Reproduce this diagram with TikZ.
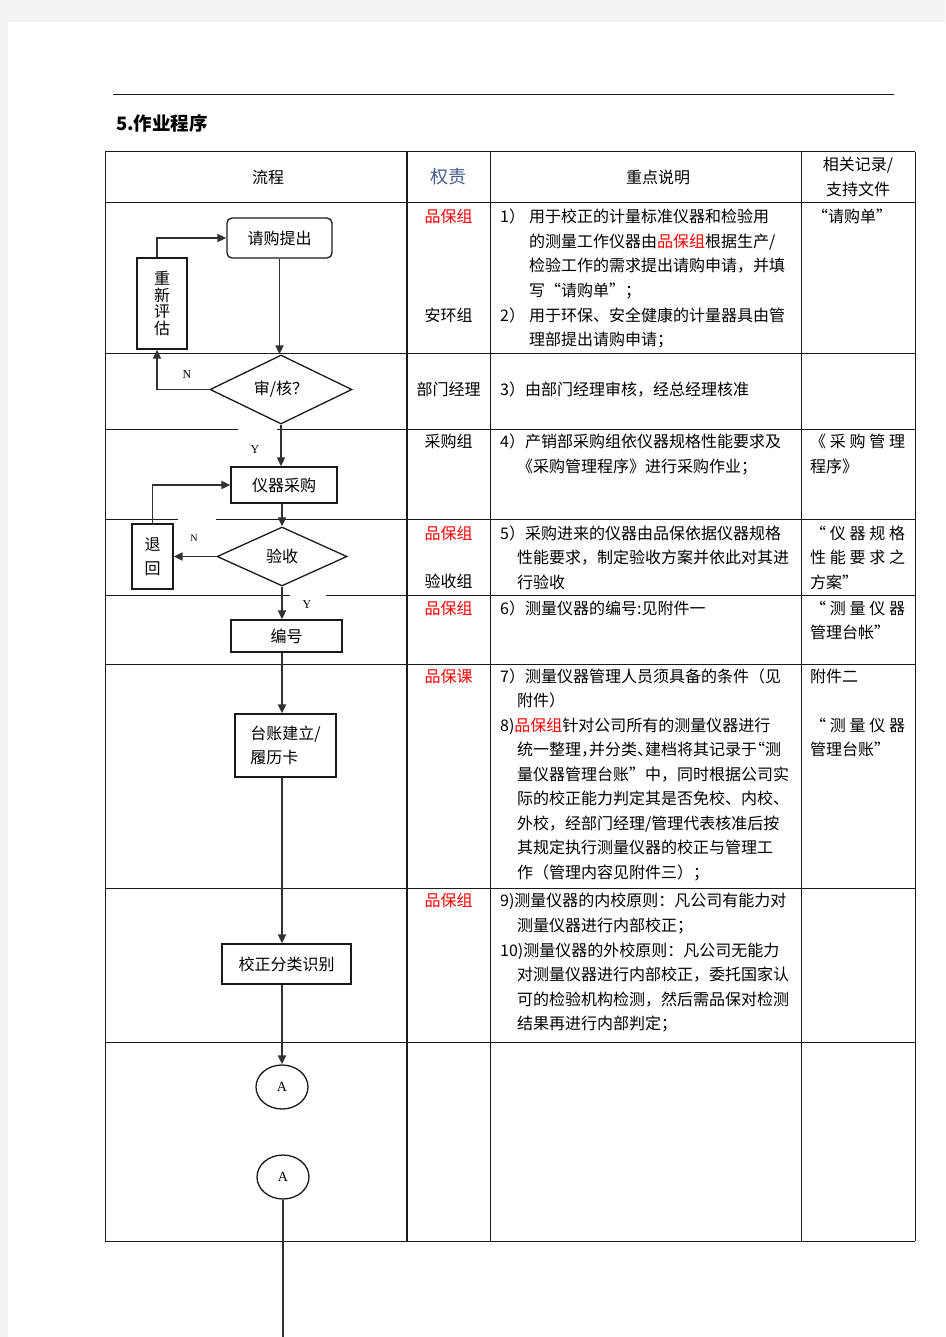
\documentclass[tikz,border=0pt]{standalone}
\usepackage{fontspec}
\newfontfamily\cjk{Noto Sans CJK SC}
\newfontfamily\lat{Liberation Serif}
\usetikzlibrary{shapes.geometric,arrows.meta}

\definecolor{pagegray}{HTML}{F3F3F3}
\definecolor{dutyblue}{RGB}{70,90,140}
\definecolor{ink}{HTML}{1A1A1A}

\tikzset{
  every node/.style={font=\cjk\fontsize{16}{24.5}\selectfont},
  tabline/.style={draw=ink, line width=1pt},
  proc/.style={draw=ink, line width=1.3pt, inner sep=0pt},
  rproc/.style={proc, rounded corners=5pt},
  decide/.style={proc, diamond, aspect=2},
  joint/.style={proc, ellipse, font=\lat\fontsize{14}{14}\selectfont},
  flow/.style={draw=ink!90, line width=1.8pt, -{Triangle[length=9pt,width=8pt]}},
  yn/.style={inner sep=0pt, font=\lat\fontsize{12}{12}\selectfont},
  txt/.style={anchor=base west, inner sep=0pt},
  role/.style={anchor=base, inner sep=0pt}
}

% lines of one cell, 24.5 apart
\newcommand\textlines[4]{%
  \foreach \entry [count=\k] in {#4}
    \node[txt] (#1-\k) at (#2,{#3+24.5*(\k-1)}) {\entry};}
% five glyphs spread over the record column
\newcommand\spread[5]{\makebox[95pt][s]{#1\hfill #2\hfill #3\hfill #4\hfill #5}}
% half-width punctuation
\newcommand\hp[1]{\makebox[8pt][l]{#1}}
\newcommand\hq[1]{\makebox[8pt][r]{#1}}

\begin{document}
\begin{tikzpicture}[x=1pt,y=-1pt]

	\fill[pagegray] (0,0) rectangle (945,1337);
	\fill[white] (8,22) rectangle (945,1337);
	\useasboundingbox (0,0) rectangle (945,1337);

	\draw[tabline] (113,95) -- (894,95);
	\node[anchor=west, inner sep=0pt, font=\cjk\bfseries\fontsize{18.5}{18.5}\selectfont] (title) at (116,123) {5.作业程序};

	% table
	\foreach \y in {152,203,353,664,888,1042,1241}
		\draw[tabline] (105,\y) -- (915,\y);
	\draw[tabline] (105,429) -- (238,429);
	\draw[tabline] (277,429) -- (915,429);
	\draw[tabline] (105,519) -- (178,519);
	\draw[tabline] (216,519) -- (915,519);
	\draw[tabline] (105,595) -- (290,595);
	\draw[tabline] (326,595) -- (915,595);

	\foreach \x in {105,490,801,915}
		\draw[tabline] (\x,152) -- (\x,1241);
	\draw[tabline, line width=2.2pt] (407,152) -- (407,1241);

	% header
	\node (h1) at (268,177) {流程};
	\node[text=dutyblue, font=\cjk\fontsize{18}{18}\selectfont] (h2) at (448.5,177) {权责};
	\node (h3) at (658,177) {重点说明};
	\node[align=center, inner sep=0pt] (h4) at (858,177) {相关记录/\\支持文件};

	% flow
	\node[rproc, minimum width=105pt, minimum height=40pt] (req) at (279.5,238) {请购提出};
	\node[proc, minimum width=50pt, minimum height=91pt, align=center, font=\cjk\fontsize{16}{16.7}\selectfont] (re) at (162,303.5) {重\\新\\评\\估};
	\node[decide, minimum width=142pt, minimum height=69pt] (aud) at (281,389.5) {审/核？};
	\node[proc, minimum width=106pt, minimum height=36pt] (buy) at (284,485) {仪器采购};
	\node[decide, minimum width=130pt, minimum height=59pt] (chk) at (282,556.5) {验收};
	\node[proc, minimum width=41pt, minimum height=65pt, align=center] (ret) at (152.5,556.5) {退\\回};
	\node[proc, minimum width=111pt, minimum height=32pt] (num) at (286.5,636) {编号};
	\node[proc, minimum width=101pt, minimum height=63pt, align=left] (led) at (285.5,745.5) {台账建立/\\履历卡};
	\node[proc, minimum width=129pt, minimum height=40pt] (cal) at (286.5,964) {校正分类识别};
	\node[joint, minimum width=52pt, minimum height=44pt] (a1) at (282,1087) {A};
	\node[joint, minimum width=52pt, minimum height=44pt] (a2) at (283,1177) {A};
	\coordinate (tail) at (283,1337);

	\node[yn] (n1) at (187,375) {N};
	\node[yn] (y1) at (255,450) {Y};
	\node[yn, font=\lat\fontsize{10}{10}\selectfont] (n2) at (194,538) {N};
	\node[yn] (y2) at (307,605) {Y};

	\draw[flow] ([xshift=-5pt]re.north) |- (req.west);
	\draw[flow] (req.south) -- (req.south |- aud.north);
	\draw[flow] (aud.west) -| ([xshift=-5pt]re.south);
	\draw[flow] (aud.south) -- (aud.south |- buy.north);
	\draw[flow] (chk.north |- buy.south) -- (chk.north);
	\draw[flow] (chk.west) -- (ret.east);
	\draw[flow] (ret.north) |- (buy.west);
	\draw[flow] (chk.south) -- (chk.south |- num.north);
	\draw[flow] (chk.south |- num.south) -- (chk.south |- led.north);
	\draw[flow] (chk.south |- led.south) -- (chk.south |- cal.north);
	\draw[flow] (a1.north |- cal.south) -- (a1.north);
	\draw[draw=ink!90, line width=1.8pt] (a2.south) -- (tail);

	% duties
	\node[role, text=red] (d1) at (448.5,223) {品保组};
	\node[role] (d2) at (448.5,321) {安环组};
	\node[role] (d3) at (448.5,395.3) {部门经理};
	\node[role] (d4) at (448.5,447.7) {采购组};
	\node[role, text=red] (d5) at (448.5,539.3) {品保组};
	\node[role] (d6) at (448.5,587.7) {验收组};
	\node[role, text=red] (d7) at (448.5,614.3) {品保组};
	\node[role, text=red] (d8) at (448.5,682) {品保课};
	\node[role, text=red] (d9) at (448.5,906.7) {品保组};

	% notes
	\textlines{c1}{500}{223}{1）\hspace{4pt}用于校正的计量标准仪器和检验用,
		\hspace*{29pt}的测量工作仪器由\textcolor{red}{品保组}根据生产/,
		\hspace*{29pt}检验工作的需求提出请购申请，并填,
		\hspace*{29pt}写“请购单”；}
	\textlines{c2}{500}{321}{2）\hspace{4pt}用于环保、安全健康的计量器具由管,
		\hspace*{29pt}理部提出请购申请；}
	\textlines{c3}{500}{395.3}{3）由部门经理审核，经总经理核准}
	\textlines{c4}{500}{447.7}{4）产销部采购组依仪器规格性能要求及,
		\hspace*{17pt}《采购管理程序》进行采购作业；}
	\textlines{c5}{500}{539.3}{5）采购进来的仪器由品保依据仪器规格,
		\hspace*{17pt}性能要求，制定验收方案并依此对其进,
		\hspace*{17pt}行验收}
	\textlines{c6}{500}{614.3}{6）测量仪器的编号:见附件一}
	\textlines{c7}{500}{682}{7）测量仪器管理人员须具备的条件（见,
		\hspace*{17pt}附件）}
	\textlines{c8}{500}{731}{8)\textcolor{red}{品保组}针对公司所有的测量仪器进行,
		\hspace*{17pt}统一整理\hp{，}并分类\hp{、}建档将其记录于\hq{“}测,
		\hspace*{17pt}量仪器管理台账”中，同时根据公司实,
		\hspace*{17pt}际的校正能力判定其是否免校、内校、,
		\hspace*{17pt}外校，经部门经理/管理代表核准后按,
		\hspace*{17pt}其规定执行测量仪器的校正与管理工,
		\hspace*{17pt}作（管理内容见附件三）；}
	\textlines{c9}{500}{906.7}{9)测量仪器的内校原则：凡公司有能力对,
		\hspace*{17pt}测量仪器进行内部校正；}
	\textlines{c10}{500}{956}{10)测量仪器的外校原则：凡公司无能力,
		\hspace*{17pt}对测量仪器进行内部校正，委托国家认,
		\hspace*{17pt}可的检验机构检测，然后需品保对检测,
		\hspace*{17pt}结果再进行内部判定；}

	% records
	\textlines{r1}{812}{223}{“请购单”}
	\textlines{r4}{810}{447.7}{\spread{《}{采}{购}{管}{理}, 程序》}
	\textlines{r5}{810}{539.3}{\spread{“}{仪}{器}{规}{格}, \spread{性}{能}{要}{求}{之}, 方案”}
	\textlines{r6}{810}{614.3}{\spread{“}{测}{量}{仪}{器}, 管理台帐”}
	\textlines{r7}{810}{682}{附件二}
	\textlines{r8}{810}{731}{\spread{“}{测}{量}{仪}{器}, 管理台账”}

\end{tikzpicture}
\end{document}
